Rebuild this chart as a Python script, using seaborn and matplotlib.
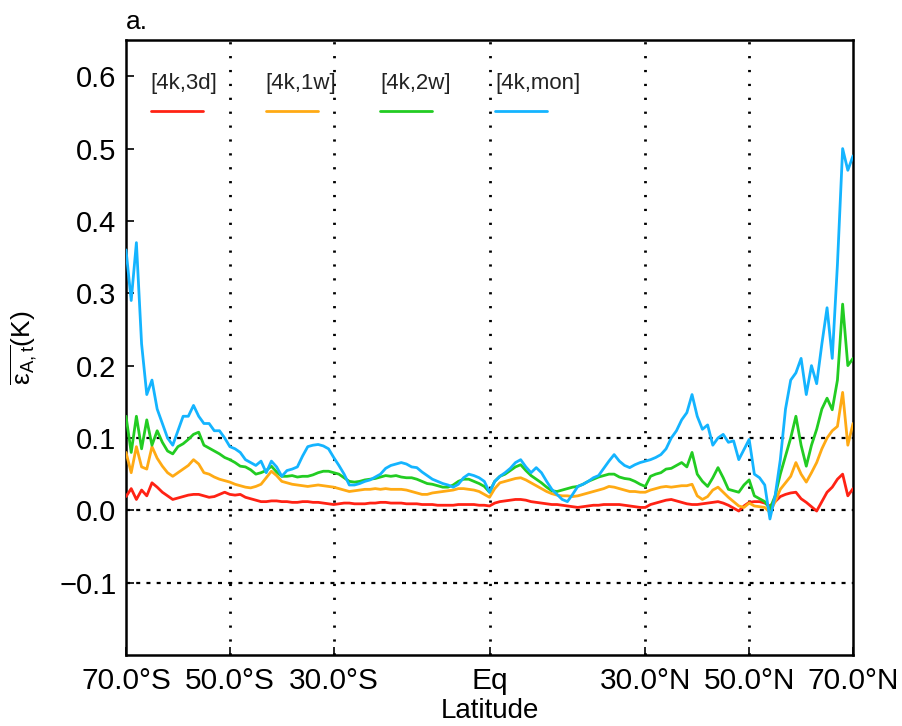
import numpy as np
import pandas as pd
import seaborn as sns
import matplotlib.pyplot as plt
from matplotlib.lines import Line2D

# latitude grid, 1 degree steps from 70S to 70N
lat = np.arange(-70, 71)

err_3d = [
    0.019, 0.030, 0.015, 0.028, 0.020, 0.038, 0.032, 0.025, 0.020, 0.015,
    0.017, 0.019, 0.021, 0.022, 0.022, 0.020, 0.018, 0.019, 0.022, 0.025,
    0.022, 0.021, 0.022, 0.018, 0.016, 0.014, 0.012, 0.012, 0.013, 0.013,
    0.012, 0.012, 0.011, 0.011, 0.012, 0.012, 0.011, 0.011, 0.010, 0.009,
    0.008, 0.009, 0.010, 0.010, 0.009, 0.009, 0.009, 0.010, 0.010, 0.011,
    0.011, 0.010, 0.010, 0.010, 0.009, 0.009, 0.009, 0.008, 0.008, 0.008,
    0.007, 0.007, 0.007, 0.007, 0.008, 0.008, 0.008, 0.008, 0.007, 0.007,
    0.006,
    0.010, 0.012, 0.013, 0.014, 0.015, 0.015, 0.014, 0.012, 0.011, 0.010,
    0.009, 0.008, 0.008, 0.007, 0.006, 0.005, 0.004, 0.005, 0.006, 0.007,
    0.007, 0.008, 0.008, 0.008, 0.008, 0.007, 0.006, 0.005, 0.004, 0.004,
    0.008, 0.010, 0.012, 0.014, 0.015, 0.013, 0.011, 0.009, 0.008, 0.008,
    0.009, 0.010, 0.011, 0.012, 0.010, 0.007, 0.003, -0.001, 0.006, 0.011,
    0.012, 0.012, 0.010, 0.006, 0.012, 0.019, 0.022, 0.024, 0.025, 0.016,
    0.011, 0.005, -0.001, 0.012, 0.025, 0.032, 0.043, 0.050, 0.020, 0.030,
]

err_1w = [
    0.080, 0.052, 0.088, 0.060, 0.057, 0.088, 0.072, 0.061, 0.052, 0.047,
    0.052, 0.057, 0.062, 0.070, 0.064, 0.052, 0.050, 0.046, 0.043, 0.041,
    0.039, 0.036, 0.034, 0.032, 0.031, 0.033, 0.036, 0.045, 0.054, 0.048,
    0.040, 0.038, 0.036, 0.035, 0.034, 0.033, 0.034, 0.035, 0.034, 0.033,
    0.032, 0.030, 0.028, 0.026, 0.027, 0.028, 0.029, 0.029, 0.030, 0.029,
    0.030, 0.029, 0.029, 0.029, 0.028, 0.026, 0.024, 0.022, 0.022, 0.024,
    0.025, 0.026, 0.027, 0.028, 0.030, 0.030, 0.029, 0.028, 0.026, 0.022,
    0.018,
    0.030, 0.038, 0.040, 0.042, 0.044, 0.045, 0.042, 0.038, 0.034, 0.030,
    0.026, 0.023, 0.021, 0.020, 0.020, 0.019, 0.020, 0.022, 0.024, 0.026,
    0.028, 0.030, 0.033, 0.032, 0.030, 0.028, 0.026, 0.026, 0.025, 0.025,
    0.028, 0.030, 0.032, 0.033, 0.032, 0.033, 0.034, 0.034, 0.036, 0.020,
    0.015, 0.019, 0.028, 0.032, 0.025, 0.018, 0.012, 0.006, 0.004, 0.010,
    0.006, 0.005, 0.004, -0.003, 0.012, 0.029, 0.038, 0.047, 0.066, 0.050,
    0.039, 0.052, 0.066, 0.085, 0.100, 0.110, 0.116, 0.163, 0.090, 0.120,
]

err_2w = [
    0.130, 0.080, 0.130, 0.085, 0.125, 0.090, 0.110, 0.094, 0.082, 0.078,
    0.088, 0.092, 0.098, 0.105, 0.108, 0.090, 0.086, 0.082, 0.078, 0.073,
    0.070, 0.066, 0.061, 0.060, 0.056, 0.050, 0.052, 0.055, 0.061, 0.053,
    0.047, 0.047, 0.048, 0.046, 0.047, 0.047, 0.049, 0.052, 0.054, 0.054,
    0.052, 0.050, 0.045, 0.040, 0.039, 0.040, 0.042, 0.043, 0.044, 0.046,
    0.048, 0.047, 0.048, 0.046, 0.045, 0.045, 0.043, 0.040, 0.037, 0.036,
    0.034, 0.032, 0.032, 0.035, 0.040, 0.043, 0.043, 0.040, 0.037, 0.033,
    0.025,
    0.040, 0.047, 0.050, 0.055, 0.060, 0.063, 0.055, 0.048, 0.043, 0.038,
    0.032, 0.027, 0.026, 0.028, 0.030, 0.032, 0.033, 0.036, 0.040, 0.043,
    0.046, 0.048, 0.050, 0.050, 0.046, 0.044, 0.043, 0.040, 0.036, 0.033,
    0.047, 0.050, 0.052, 0.057, 0.058, 0.062, 0.066, 0.060, 0.080, 0.050,
    0.040, 0.033, 0.045, 0.059, 0.045, 0.029, 0.027, 0.025, 0.035, 0.042,
    0.020, 0.016, 0.012, 0.002, 0.020, 0.050, 0.075, 0.100, 0.130, 0.090,
    0.061, 0.090, 0.112, 0.140, 0.155, 0.139, 0.180, 0.285, 0.200, 0.210,
]

err_mon = [
    0.360, 0.290, 0.370, 0.230, 0.160, 0.180, 0.140, 0.120, 0.100, 0.090,
    0.110, 0.130, 0.130, 0.145, 0.130, 0.120, 0.120, 0.110, 0.110, 0.100,
    0.088, 0.085, 0.080, 0.070, 0.066, 0.062, 0.068, 0.052, 0.068, 0.060,
    0.047, 0.055, 0.057, 0.060, 0.075, 0.088, 0.090, 0.091, 0.089, 0.085,
    0.073, 0.062, 0.050, 0.035, 0.035, 0.037, 0.040, 0.042, 0.046, 0.050,
    0.058, 0.062, 0.064, 0.066, 0.064, 0.060, 0.059, 0.053, 0.048, 0.043,
    0.040, 0.037, 0.035, 0.032, 0.036, 0.045, 0.050, 0.048, 0.045, 0.040,
    0.025,
    0.040, 0.047, 0.052, 0.058, 0.066, 0.070, 0.060, 0.052, 0.059, 0.052,
    0.040, 0.029, 0.022, 0.015, 0.012, 0.022, 0.033, 0.036, 0.040, 0.045,
    0.048, 0.058, 0.068, 0.077, 0.068, 0.062, 0.059, 0.063, 0.066, 0.068,
    0.070, 0.073, 0.077, 0.085, 0.100, 0.110, 0.125, 0.135, 0.160, 0.130,
    0.112, 0.118, 0.090, 0.100, 0.105, 0.094, 0.096, 0.070, 0.084, 0.098,
    0.050, 0.045, 0.035, -0.012, 0.020, 0.070, 0.140, 0.180, 0.190, 0.210,
    0.160, 0.200, 0.175, 0.230, 0.280, 0.210, 0.340, 0.500, 0.470, 0.490,
]

series_names = ["[4k,3d]", "[4k,1w]", "[4k,2w]", "[4k,mon]"]
colours = ["#ff2214", "#ffaa14", "#22cc22", "#14b4ff"]

tick_lat = [-70, -50, -30, 0, 30, 50, 70]
tick_names = ["70.0°S", "50.0°S", "30.0°S", "Eq", "30.0°N", "50.0°N", "70.0°N"]
ytick_vals = [-0.1, 0.0, 0.1, 0.2, 0.3, 0.4, 0.5, 0.6]

df = pd.concat(
    [
        pd.DataFrame({"lat": lat, "err": vals, "run": name})
        for name, vals in zip(series_names, [err_3d, err_1w, err_2w, err_mon])
    ]
)

sns.set_style("white")
plt.rcParams["font.family"] = ["Liberation Sans", "DejaVu Sans"]
plt.rcParams["mathtext.default"] = "regular"
plt.rcParams["text.color"] = "black"

fig = plt.figure(figsize=(9.02, 7.26), dpi=100)
ax = fig.add_axes([0.1397, 0.0978, 0.806, 0.847])

# reference lines
for x in [-50, -30, 0, 30, 50]:
    ax.axvline(x, color="black", lw=2.0, ls=(0, (0.8, 4.2)), zorder=1)
for y in [-0.1, 0.0, 0.1]:
    ax.axhline(y, color="black", lw=1.6, ls=(0, (1.8, 2.8)), zorder=1)

sns.lineplot(
    data=df, x="lat", y="err", hue="run", palette=colours,
    estimator=None, sort=False, lw=2.0, legend=False, ax=ax, zorder=3,
)

ax.set_xlim(-70, 70)
ax.set_ylim(-0.2, 0.65)
ax.set_xticks(tick_lat)
ax.set_xticklabels(tick_names, fontsize=21.5, color="black")
ax.set_yticks(ytick_vals)
ax.set_yticklabels([f"{v:.1f}".replace("-", "\u2212") for v in ytick_vals],
                   fontsize=21, color="black")
ax.tick_params(axis="both", direction="in", length=6, width=1.2, color="black",
               bottom=True, left=True, top=False, right=False)
ax.tick_params(axis="x", pad=9)
ax.tick_params(axis="y", pad=7)
for s in ax.spines.values():
    s.set_linewidth(1.8)
    s.set_color("black")

ax.set_xlabel("Latitude", fontsize=20, labelpad=2, color="black")
ax.set_ylabel(r"$\overline{\varepsilon_{A,t}}$(K)", fontsize=19, labelpad=14, color="black")
ax.text(0.0, 1.01, "a.", transform=ax.transAxes, fontsize=19, va="bottom")

# legend drawn as labels above short line samples
for i, (name, c) in enumerate(zip(series_names, colours)):
    x0 = 0.034 + 0.158 * i
    ax.text(x0, 0.93, name, transform=ax.transAxes, fontsize=16,
            va="center", ha="left", color="#222222")
    ax.add_line(Line2D([x0, x0 + 0.0715], [0.885, 0.885], transform=ax.transAxes,
                       color=c, lw=2))

fig.savefig("out.png", dpi=100)
